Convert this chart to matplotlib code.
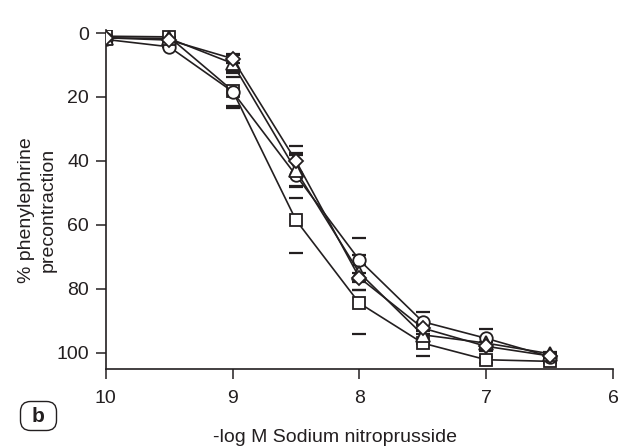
import matplotlib
matplotlib.use("Agg")
import matplotlib.pyplot as plt
from matplotlib.patches import FancyBboxPatch

plt.rcParams['font.family'] = ['Liberation Sans', 'DejaVu Sans']

log_conc = [10, 9.5, 9, 8.5, 8, 7.5, 7, 6.5]

sq_vals = [1, 1.2, 18, 58.5, 84.5, 97, 102.2, 102.7]
sq_err = [0, 0, 5.5, 10.3, 9.5, 4, 1, 0.5]
ci_vals = [2, 4.3, 18.3, 44.5, 71, 90.3, 95.5, 101.2]
ci_err = [0, 0, 4.5, 7, 7, 3, 2.8, 0.5]
tr_vals = [1.5, 1.7, 9.5, 43, 75, 94.4, 97, 100.3]
tr_err = [0, 0, 2.5, 5, 5.5, 3, 2, 0.5]
di_vals = [1.5, 2.2, 8, 40, 76.5, 92.3, 98, 101]
di_err = [0, 0, 1.5, 4.8, 4, 2, 1.5, 0.5]

xticks = [10, 9, 8, 7, 6]
yticks = [0, 20, 40, 60, 80, 100]

ink = '#231f20'
fs = 14
W, H = 628, 448

fig = plt.figure(figsize=(6.28, 4.48), dpi=100)
ax = fig.add_axes([0.1683, 0.1763, 0.8078, 0.7567])

series = [
    (sq_vals, sq_err, 's', 9.2),
    (ci_vals, ci_err, 'o', 9.0),
    (tr_vals, tr_err, '^', 9.5),
    (di_vals, di_err, 'D', 7.0),
]
for vals, err, mk, ms in series:
    ax.errorbar(log_conc, vals, yerr=err, fmt='none', ecolor=ink,
                elinewidth=0, capsize=4.8, capthick=1.6, zorder=2)
    ax.plot(log_conc, vals, color=ink, lw=1.2, marker=mk, ms=ms,
            mfc='white', mec=ink, mew=1.3, zorder=3)

ax.set_xlim(10, 6)
ax.set_ylim(105.1, -0.94)
ax.set_xticks(xticks)
ax.set_xticklabels([str(t) for t in xticks])
ax.set_yticks(yticks)
ax.set_yticklabels([str(t) for t in yticks])

for s in ['top', 'right']:
    ax.spines[s].set_visible(False)
for s in ['left', 'bottom']:
    ax.spines[s].set_linewidth(1.2)
    ax.spines[s].set_color(ink)

ax.tick_params(axis='both', direction='out', length=7, width=1.1,
               color=ink, labelsize=fs, labelcolor=ink)
ax.tick_params(axis='x', pad=8)
ax.tick_params(axis='y', pad=5)

ax.set_xlabel('-log M Sodium nitroprusside', fontsize=fs, color=ink)
ax.xaxis.set_label_coords((335 - 105.7) / 507.3, -(442 - 369) / 339.0)
ax.xaxis.label.set_va('baseline')
ax.set_ylabel('% phenylephrine\nprecontraction', fontsize=fs, color=ink,
              linespacing=1.35)
ax.yaxis.set_label_coords(-(105.7 - 57) / 507.3, (369 - 210) / 339.0)

# panel letter in a rounded box
bx0, by0, bx1, by1 = 20.5, 401.5, 56.5, 430.5
box = FancyBboxPatch((bx0 / W, 1 - by1 / H), (bx1 - bx0) / W, (by1 - by0) / H,
                     boxstyle='round,pad=0,rounding_size=0.016',
                     transform=fig.transFigure, fc='white', ec=ink, lw=1.0,
                     mutation_aspect=W / H)
fig.patches.append(box)
fig.text((bx0 + bx1) / 2 / W, 1 - (by0 + by1) / 2 / H, 'b', fontsize=15,
         fontweight='bold', color=ink, ha='center', va='center')

fig.savefig('out.png', dpi=100)
